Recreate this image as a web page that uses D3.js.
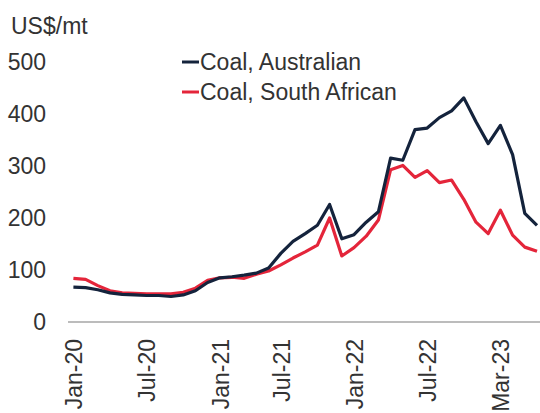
<!DOCTYPE html>
<html>
<head>
<meta charset="utf-8">
<script src="https://cdn.jsdelivr.net/npm/d3@7"></script>
<style>
  body { margin: 0; background: #fff; }
  text { font-family: "Liberation Sans", Arial, sans-serif; }
</style>
</head>
<body>
<div id="chart"></div>
<script>
// monthly prices, US$/mt
const australian = [67, 66, 62, 56, 53, 52, 51, 51, 49, 52, 60, 76, 85, 87, 90, 94, 104, 132, 155, 170,
  186, 226, 160, 168, 192, 212, 315, 311, 370, 373, 393, 406, 431, 385, 343, 378, 322, 209, 186];
const southAfrican = [84, 82, 70, 60, 56, 55, 54, 54, 54, 57, 65, 80, 85, 86, 84, 92, 98, 110, 123, 135,
  148, 200, 127, 143, 165, 196, 293, 301, 278, 291, 268, 273, 236, 192, 170, 215, 167, 144, 136];

const tickIdx = [0, 6, 12, 17, 23, 29, 35];
const tickLabels = ["Jan-20", "Jul-20", "Jan-21", "Jul-21", "Jan-22", "Jul-22", "Mar-23"];
const yTicks = [0, 100, 200, 300, 400, 500];
const seriesNames = ["Coal, Australian", "Coal, South African"];
const seriesColors = ["#14233c", "#e4253a"];

const W = 540, H = 413;
const fs = "23px";

const svg = d3.select("#chart").append("svg")
  .attr("width", W)
  .attr("height", H);

const x = d3.scaleLinear().domain([0, australian.length - 1]).range([73.4, 537]);
const y = d3.scaleLinear().domain([0, 500]).range([322, 62]);

// unit label
svg.append("text")
  .attr("x", 11)
  .attr("y", 34)
  .style("font-size", fs)
  .style("fill", "#333")
  .text("US$/mt");

// y axis: labels only
const yAxis = svg.append("g")
  .attr("transform", "translate(46,0)")
  .call(d3.axisLeft(y).tickValues(yTicks).tickSize(0).tickPadding(0));
yAxis.select(".domain").remove();
yAxis.selectAll("text")
  .style("font-size", fs)
  .style("fill", "#333");

// x axis
const xAxis = svg.append("g")
  .attr("transform", "translate(0,322)")
  .call(d3.axisBottom(x).tickValues(tickIdx).tickFormat((d, i) => tickLabels[i]).tickSize(0));
xAxis.select(".domain").remove();
xAxis.append("line")
  .attr("x1", 68)
  .attr("x2", 540)
  .attr("stroke", "#a6a6a6")
  .attr("stroke-width", 1.5);
xAxis.selectAll(".tick text")
  .attr("transform", "rotate(-90)")
  .attr("text-anchor", "end")
  .attr("x", -17)
  .attr("y", 0)
  .attr("dy", "0.36em")
  .style("font-size", fs)
  .style("fill", "#333");

const line = d3.line()
  .x((d, i) => x(i))
  .y(d => y(d));

[southAfrican, australian].forEach((s, k) => {
  svg.append("path")
    .datum(s)
    .attr("fill", "none")
    .attr("stroke", seriesColors[k === 0 ? 1 : 0])
    .attr("stroke-width", 3.2)
    .attr("stroke-linejoin", "round")
    .attr("d", line);
});

// legend
const legend = svg.append("g").attr("transform", "translate(182,62)");
seriesNames.forEach((name, i) => {
  legend.append("line")
    .attr("x1", 0)
    .attr("x2", 17)
    .attr("y1", i * 30)
    .attr("y2", i * 30)
    .attr("stroke", seriesColors[i])
    .attr("stroke-width", 3);
  legend.append("text")
    .attr("x", 18)
    .attr("y", i * 30)
    .attr("dy", "0.35em")
    .style("font-size", fs)
    .style("fill", "#333")
    .text(name);
});
</script>
</body>
</html>
